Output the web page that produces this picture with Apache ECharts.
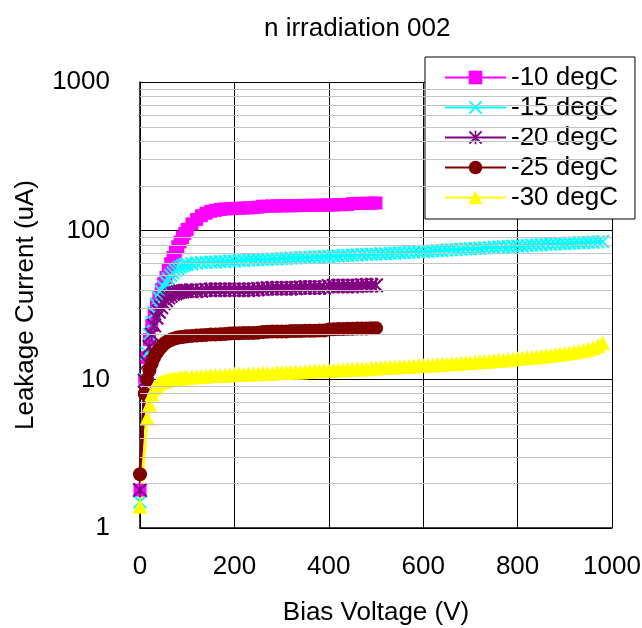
<!DOCTYPE html>
<html><head><meta charset="utf-8">
<script src="https://cdn.jsdelivr.net/npm/echarts@6/dist/echarts.min.js"></script>
<style>html,body{margin:0;padding:0;background:#fff;overflow:hidden}#c{width:642px;height:628px}</style>
</head><body><div id="c"></div>
<script>
const titleText = 'n irradiation 002';
const xName = 'Bias Voltage (V)';
const yName = 'Leakage Current (uA)';
const seriesNames = ['-10 degC', '-15 degC', '-20 degC', '-25 degC', '-30 degC'];
const seriesColors = ['#FF00FF', '#00FFFF', '#800080', '#800000', '#FFFF00'];
const minorGridValues = [2,3,4,5,6,7,8,9,20,30,40,50,60,70,80,90,200,300,400,500,600,700,800,900];

const voltsShort = [0,10,15,20,25,30,35,40,45,50,55,60,65,70,75,80,85,90,95,100,
  110,120,130,140,150,160,170,180,190,200,210,220,230,240,250,260,270,280,290,300,
  310,320,330,340,350,360,370,380,390,400,410,420,430,440,450,460,470,480,490,500];
const voltsLong = [0,10,15,20,25,30,35,40,45,50,55,60,65,70,75,80,85,90,95,100,
  110,120,130,140,150,160,170,180,190,200,210,220,230,240,250,260,270,280,290,300,
  310,320,330,340,350,360,370,380,390,400,410,420,430,440,450,460,470,480,490,500,
  510,520,530,540,550,560,570,580,590,600,610,620,630,640,650,660,670,680,690,700,
  710,720,730,740,750,760,770,780,790,800,810,820,830,840,850,860,870,880,890,900,
  910,920,930,940,950,960,970,980];

const m10 = [1.8,9.8,14,18.5,23,27.5,32,36,40,44,48.5,54,60,66,72,78,84,90,96,102,
  111,119,126,131,135,137,139,140,140.5,141,141.5,142,142.5,143,144,146,146,146.5,146.5,147,
  147,147,147.5,147.5,148,148,148,148.5,148.5,149,149,149.5,149.5,150,152,152.5,152.5,153,153,153.5];
const m15 = [1.5,10,15,20,24,28,32,35.5,39,42,45,47.5,50,52,54,55.5,57,58,59,59.5,
  60,60.5,61,61,61.5,61.5,62,62,62.5,62.5,63,63,63.5,63.5,64,64,64,64.5,64.5,65,
  65,65.5,65.5,66,66,66,66.5,66.5,67,67,67.5,67.5,68,68,68.5,68.5,69,69,69.5,69.5,
  70,70,70.5,70.5,71,71,71.5,71.5,72,72.5,72.5,73,73.5,73.5,74,74.5,74.5,75,75.5,75.5,
  76,76,76.5,77,77,77.5,78,78,78.5,79,79,79.5,80,80,80.5,81,81,81.5,82,82,
  82.5,82.5,83,83,83.5,83.5,84,84.5];
const m20 = [1.8,9.8,13,16.5,20,23,26,28.5,30.5,32.5,34,35.5,36.5,37.5,38,38.5,39,39,39.5,39.5,
  39.5,39.5,39.5,40,40,40,40,40,40,40,40,40,40,40,40.5,40.5,41,41,41,41,
  41,41,41,41.5,41.5,41.5,41.5,41.5,41.5,42.5,42.5,42.5,42.5,42.5,42.5,42.5,43,43,43,43];
const m25 = [2.3,8.0,10,11.5,12.8,14,15,15.8,16.5,17.2,17.7,18.1,18.4,18.7,18.9,19.1,19.2,19.3,19.4,19.5,
  19.6,19.7,19.8,19.9,20,20,20.1,20.2,20.3,20.4,20.4,20.5,20.5,20.5,20.6,20.8,20.9,21,21,21,
  21,21.1,21.1,21.1,21.2,21.2,21.2,21.3,21.3,21.6,21.7,21.8,21.8,21.9,21.9,22,22,22,22.1,22.1];
const m30 = [1.4,null,5.5,6.8,8.0,8.7,9.1,9.4,9.6,9.7,9.8,9.9,10,10,10.1,10.1,10.2,10.2,10.3,10.3,
  10.4,10.4,10.5,10.5,10.6,10.6,10.6,10.7,10.7,10.8,10.8,10.8,10.9,10.9,10.9,11.0,11.0,11.0,11.1,11.1,
  11.1,11.2,11.2,11.2,11.3,11.3,11.4,11.4,11.5,11.5,11.5,11.6,11.6,11.7,11.7,11.8,11.8,11.8,11.9,11.9,
  12.0,12.0,12.1,12.1,12.2,12.2,12.3,12.3,12.4,12.4,12.5,12.5,12.6,12.7,12.7,12.8,12.8,12.9,13.0,13.0,
  13.1,13.2,13.2,13.3,13.4,13.5,13.5,13.6,13.7,13.8,13.9,14.0,14.1,14.2,14.3,14.4,14.5,14.7,14.8,15.0,
  15.1,15.3,15.5,15.7,16.0,16.3,16.8,17.6];

const seriesVolts = [voltsShort, voltsLong, voltsShort, voltsShort, voltsLong];
const seriesValues = [m10, m15, m20, m25, m30];

const pathX = 'path://M0 10 L10 0 L100 90 L90 100 Z M90 0 L100 10 L10 100 L0 90 Z';
const pathStar = 'path://M0 10 L10 0 L100 90 L90 100 Z M90 0 L100 10 L10 100 L0 90 Z M44 0 L56 0 L56 100 L44 100 Z';
const symbols = ['rect', pathX, pathStar, 'circle', 'triangle'];
const symbolSizes = [13, 14, 15, 14, 15];

const FONT = '"Liberation Sans", Arial, sans-serif';

const series = [{
  name: '__grid', type: 'line', data: [], z: 1, silent: true,
  markLine: {
    silent: true, symbol: 'none', animation: false,
    label: { show: false },
    lineStyle: { color: '#c4c4c4', width: 1, type: 'solid' },
    data: minorGridValues.map(v => ({ yAxis: v }))
  }
}];
seriesNames.forEach((name, i) => {
  const data = seriesVolts[i].map((v, k) => [v, seriesValues[i][k]]).filter(p => p[1] != null);
  series.push({
    name, type: 'line', data, z: 3,
    symbol: symbols[i], symbolSize: symbolSizes[i], showAllSymbol: true,
    color: seriesColors[i],
    itemStyle: { color: seriesColors[i], borderWidth: 0 },
    lineStyle: { color: seriesColors[i], width: 3 },
    emphasis: { disabled: true }
  });
});

const chart = echarts.init(document.getElementById('c'), null, { renderer: 'canvas' });
chart.setOption({
  animation: false,
  backgroundColor: '#ffffff',
  textStyle: { fontFamily: FONT, color: '#000' },
  title: {
    text: titleText, left: 259, top: 11,
    textStyle: { fontFamily: FONT, fontSize: 26, fontWeight: 'normal', color: '#000' }
  },
  legend: {
    data: seriesNames, orient: 'vertical', left: 425, top: 57,
    padding: [7, 17, 8, 19], itemGap: 3, itemWidth: 61, itemHeight: 17,
    borderColor: '#000', borderWidth: 1, backgroundColor: '#fff', borderRadius: 0,
    textStyle: { fontFamily: FONT, fontSize: 26, color: '#000', lineHeight: 27 }
  },
  grid: { left: 140, right: 30, top: 82, bottom: 100, containLabel: false, outerBoundsMode: 'none' },
  xAxis: {
    type: 'value', min: 0, max: 1000, interval: 200,
    name: xName, nameLocation: 'middle', nameGap: 72,
    nameTextStyle: { fontFamily: FONT, fontSize: 26, color: '#000' },
    axisLine: { show: true, lineStyle: { color: '#000', width: 1.5 } },
    axisTick: { show: false },
    axisLabel: { margin: 26, fontFamily: FONT, fontSize: 26, color: '#000', formatter: v => String(v) },
    splitLine: { show: true, lineStyle: { color: '#000', width: 1 } }
  },
  yAxis: {
    type: 'log', logBase: 10, min: 1, max: 1000,
    name: yName, nameLocation: 'middle', nameGap: 101, nameRotate: 90,
    nameTextStyle: { fontFamily: FONT, fontSize: 26, color: '#000' },
    axisLine: { show: true, lineStyle: { color: '#000', width: 1.5 } },
    axisTick: { show: false },
    axisLabel: { margin: 30, fontFamily: FONT, fontSize: 26, color: '#000', formatter: v => String(Math.round(v)), padding: [0, 0, 5, 0] },
    splitLine: { show: true, lineStyle: { color: '#000', width: 1 } }
  },
  series
});
</script>
</body></html>
